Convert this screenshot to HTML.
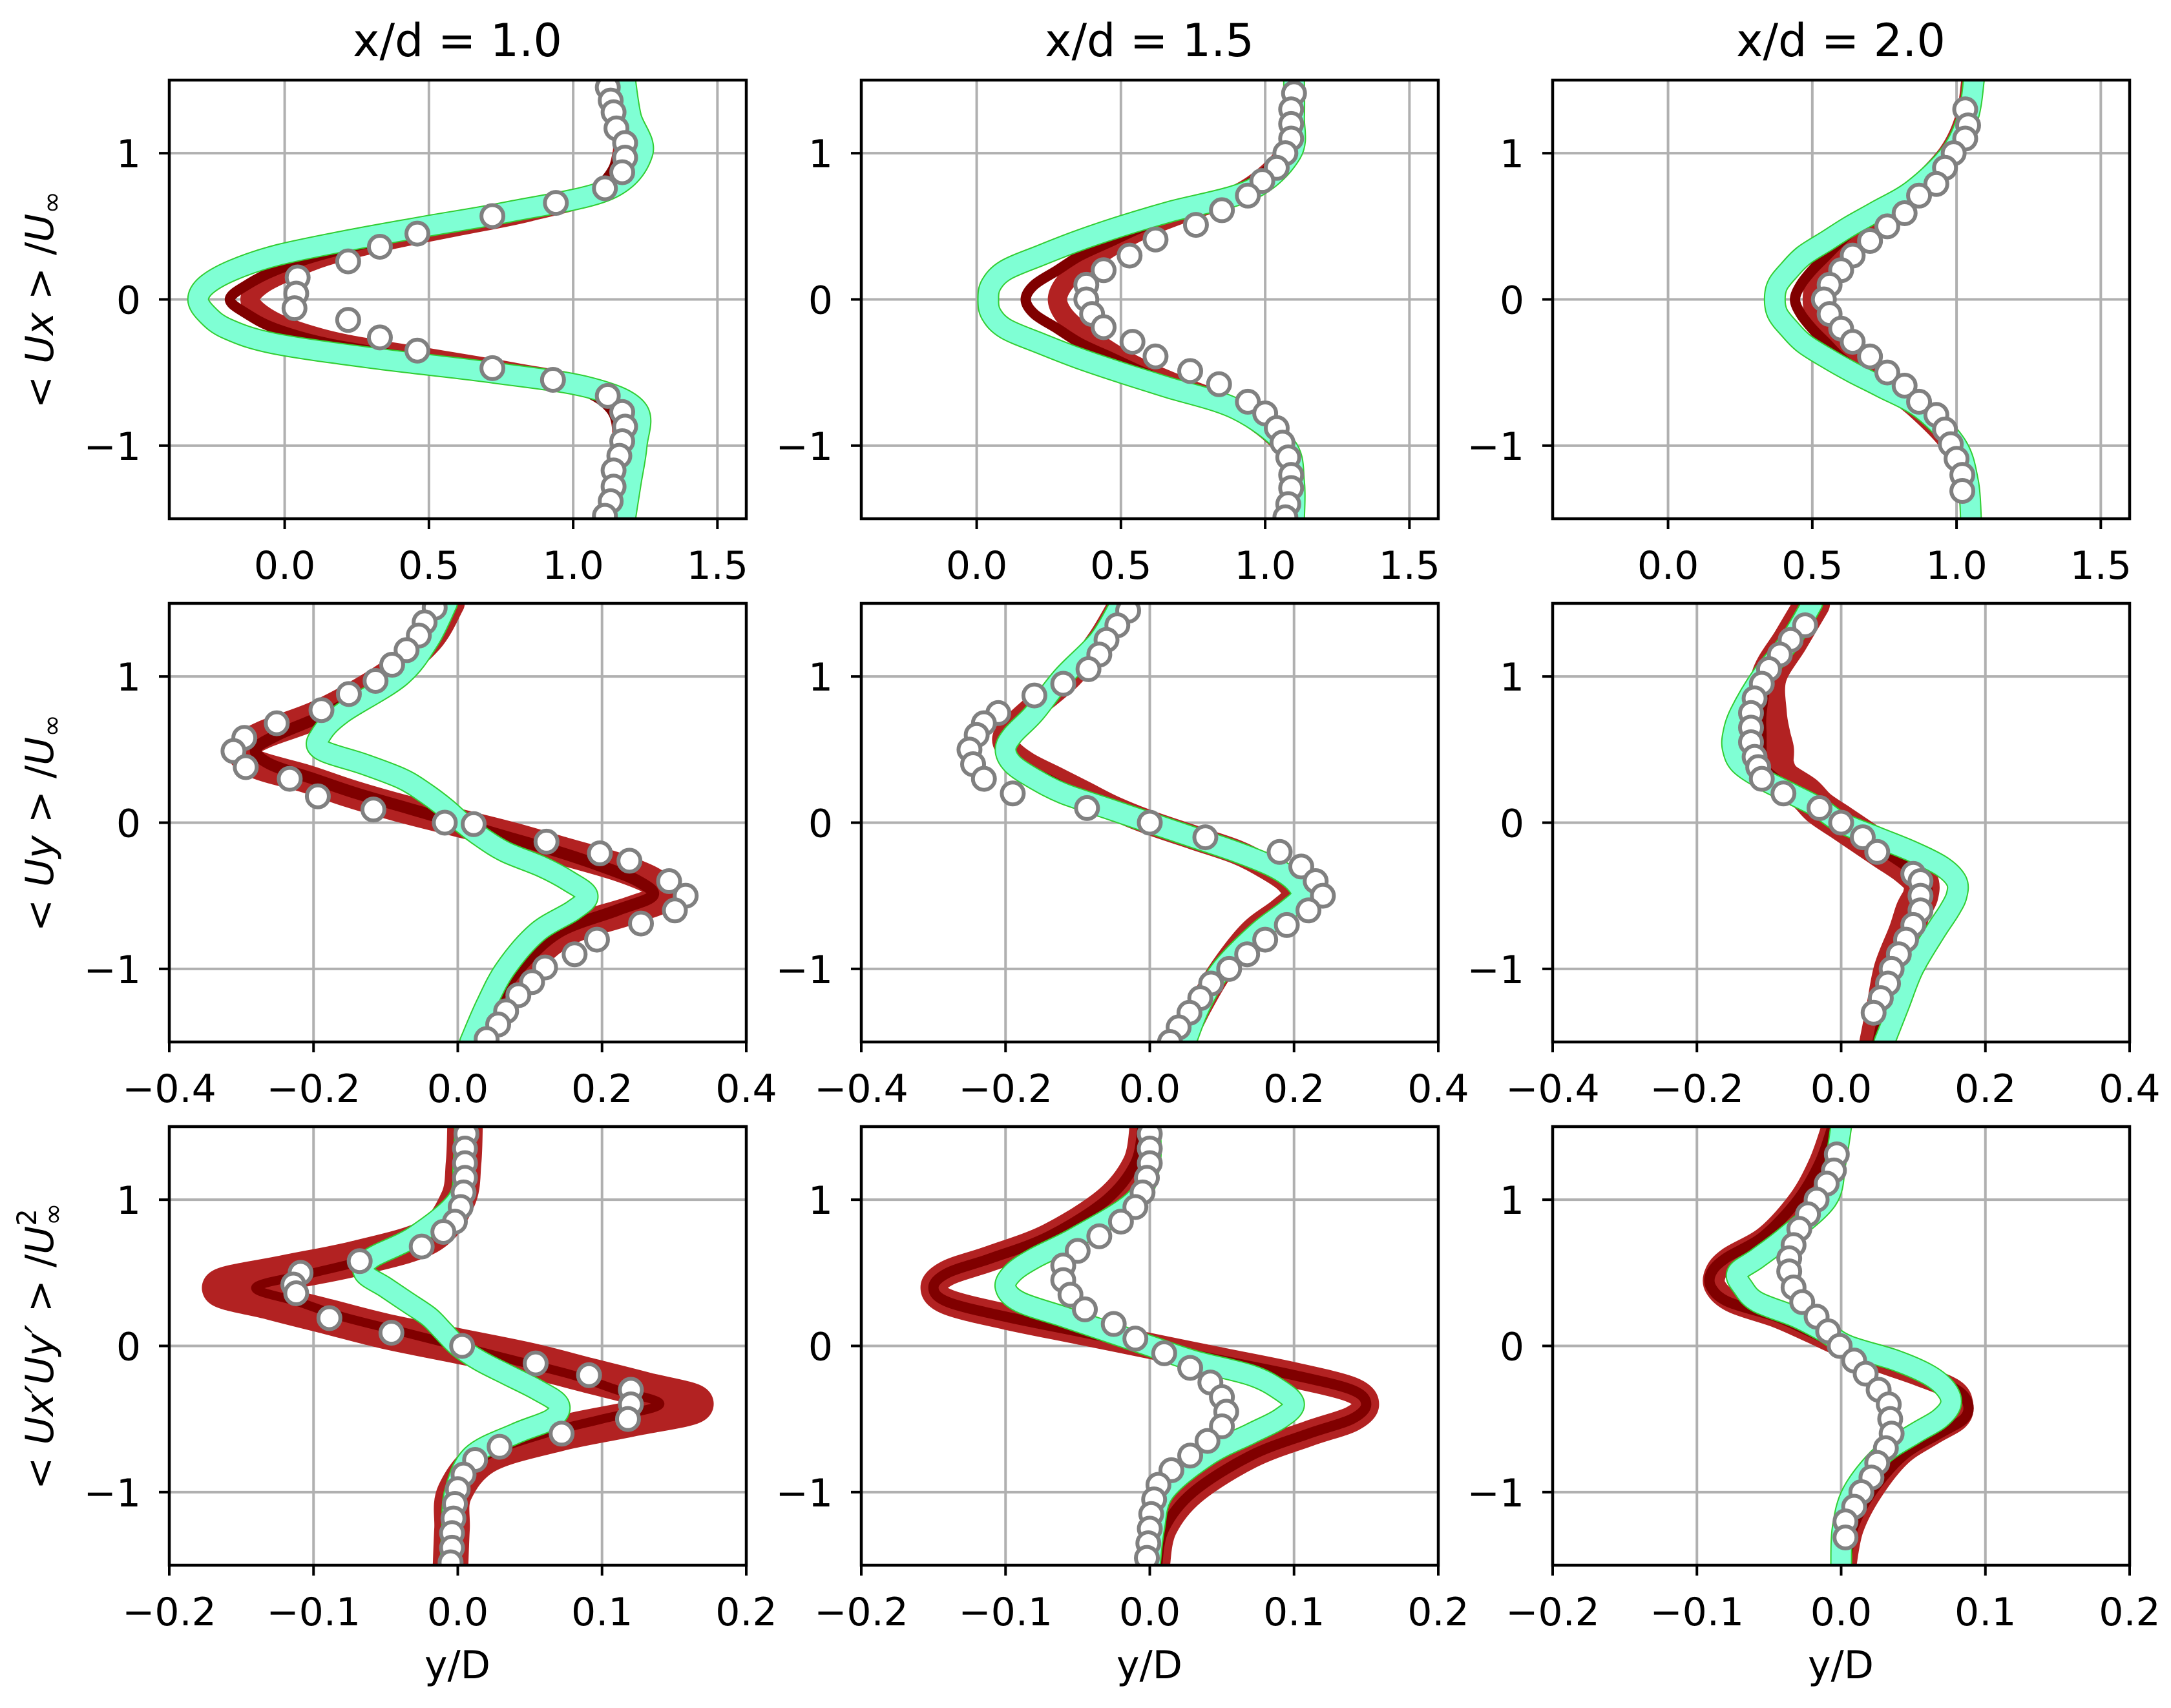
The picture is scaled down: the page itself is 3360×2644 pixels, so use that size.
<!DOCTYPE html>
<html><head><meta charset="utf-8"><style>
html,body{margin:0;padding:0;background:#fff;}
svg{display:block;font-family:"DejaVu Sans","Liberation Sans",sans-serif;}
</style></head><body>
<svg id="fig" width="3360" height="2644" viewBox="0 0 3360 2644" xmlns="http://www.w3.org/2000/svg">
<rect width="3360" height="2644" fill="#fff"/>
<text x="708" y="87" font-size="70" text-anchor="middle">x/d = 1.0</text>
<text x="1779" y="87" font-size="70" text-anchor="middle">x/d = 1.5</text>
<text x="2849" y="87" font-size="70" text-anchor="middle">x/d = 2.0</text>
<text x="708" y="2598" font-size="60" text-anchor="middle">y/D</text>
<text x="1779" y="2598" font-size="60" text-anchor="middle">y/D</text>
<text x="2849" y="2598" font-size="60" text-anchor="middle">y/D</text>
<text font-size="60" text-anchor="middle" transform="translate(82,464) rotate(-90)">&lt; <tspan font-style="italic">Ux</tspan> &gt; /<tspan font-style="italic">U</tspan><tspan font-size="42" dy="12">∞</tspan></text>
<text font-size="60" text-anchor="middle" transform="translate(82,1274) rotate(-90)">&lt; <tspan font-style="italic">Uy</tspan> &gt; /<tspan font-style="italic">U</tspan><tspan font-size="42" dy="12">∞</tspan></text>
<text font-size="60" text-anchor="middle" transform="translate(82,2084) rotate(-90)">&lt; <tspan font-style="italic">Ux′Uy′</tspan> &gt; /<tspan font-style="italic">U</tspan><tspan font-size="42" dy="-26">2</tspan><tspan font-size="42" dx="-26" dy="40">∞</tspan></text>
<g id="panels"></g>
</svg>
<script>
const yGrid = [-1.5,-1.25,-1,-0.75,-0.6,-0.5,-0.4,-0.3,-0.2,-0.1,0,0.1,0.2,0.3,0.4,0.5,0.6,0.75,1,1.25,1.5];
const yTicks = [-1,0,1];
const yTickLabels = ["\u22121","0","1"];
const xTicksRow1 = [0,0.5,1.0,1.5];
const xLabelsRow1 = ["0.0","0.5","1.0","1.5"];
const xTicksRow2 = [-0.4,-0.2,0,0.2,0.4];
const xLabelsRow2 = ["\u22120.4","\u22120.2","0.0","0.2","0.4"];
const xTicksRow3 = [-0.2,-0.1,0,0.1,0.2];
const xLabelsRow3 = ["\u22120.2","\u22120.1","0.0","0.1","0.2"];

const ux1Cyan = [1.18,1.2,1.22,1.22,1.05,0.72,0.3,-0.04,-0.2,-0.27,-0.3,-0.27,-0.18,-0.03,0.21,0.49,0.78,1.12,1.24,1.2,1.18];
const ux1Red  = [1.13,1.15,1.17,1.15,1.05,0.8,0.5,0.2,0.02,-0.08,-0.12,-0.08,0.02,0.15,0.35,0.6,0.85,1.1,1.17,1.15,1.13];
const ux1Dark = [1.12,1.14,1.16,1.13,1.0,0.75,0.45,0.15,-0.03,-0.13,-0.19,-0.13,-0.03,0.12,0.32,0.57,0.82,1.07,1.16,1.14,1.12];
const ux1MarkY = [1.45,1.36,1.28,1.17,1.07,0.97,0.87,0.76,0.66,0.57,0.45,0.36,0.26,0.15,0.04,-0.06,-0.14,-0.26,-0.35,-0.47,-0.55,-0.66,-0.77,-0.87,-0.97,-1.07,-1.17,-1.28,-1.38,-1.48];
const ux1MarkX = [1.12,1.13,1.14,1.15,1.18,1.18,1.17,1.11,0.94,0.72,0.46,0.33,0.22,0.045,0.04,0.034,0.22,0.33,0.46,0.72,0.93,1.12,1.17,1.18,1.17,1.16,1.14,1.14,1.13,1.11];

const ux2Cyan = [1.1,1.1,1.07,0.9,0.66,0.5,0.35,0.22,0.1,0.05,0.04,0.05,0.1,0.22,0.35,0.5,0.67,0.95,1.09,1.1,1.1];
const ux2Red  = [1.09,1.09,1.06,0.9,0.72,0.6,0.5,0.42,0.35,0.3,0.28,0.3,0.35,0.42,0.5,0.6,0.73,0.93,1.07,1.09,1.1];
const ux2Dark = [1.08,1.08,1.05,0.88,0.7,0.58,0.47,0.36,0.28,0.2,0.17,0.2,0.28,0.36,0.47,0.58,0.71,0.91,1.06,1.08,1.09];
const ux2MarkY = [1.41,1.30,1.20,1.10,1.0,0.9,0.81,0.71,0.61,0.51,0.41,0.30,0.20,0.10,0,-0.10,-0.19,-0.29,-0.39,-0.49,-0.58,-0.70,-0.78,-0.88,-0.98,-1.08,-1.2,-1.29,-1.40,-1.49];
const ux2MarkX = [1.10,1.09,1.09,1.09,1.07,1.04,0.99,0.94,0.85,0.76,0.62,0.53,0.44,0.38,0.38,0.40,0.44,0.54,0.62,0.74,0.84,0.94,1.0,1.04,1.06,1.08,1.09,1.09,1.08,1.07];

const ux3Cyan = [1.05,1.04,1.0,0.88,0.74,0.64,0.55,0.47,0.42,0.38,0.37,0.38,0.42,0.47,0.55,0.63,0.72,0.85,0.98,1.04,1.06];
const ux3Red  = [1.05,1.03,0.98,0.86,0.76,0.69,0.63,0.58,0.54,0.51,0.5,0.51,0.54,0.58,0.63,0.68,0.75,0.85,0.97,1.03,1.05];
const ux3Dark = [1.05,1.03,0.98,0.86,0.75,0.67,0.6,0.55,0.5,0.46,0.44,0.46,0.5,0.55,0.6,0.66,0.74,0.85,0.97,1.03,1.05];
const ux3MarkY = [1.30,1.19,1.10,1.0,0.90,0.79,0.71,0.59,0.50,0.40,0.30,0.20,0.10,0,-0.10,-0.2,-0.29,-0.39,-0.50,-0.59,-0.70,-0.79,-0.89,-0.99,-1.09,-1.2,-1.31];
const ux3MarkX = [1.03,1.04,1.03,0.99,0.96,0.93,0.87,0.82,0.76,0.70,0.64,0.60,0.56,0.54,0.56,0.60,0.64,0.70,0.76,0.82,0.87,0.93,0.96,0.98,1.0,1.02,1.02];

const uy1Cyan = [0.017,0.039,0.066,0.11,0.16,0.18,0.154,0.116,0.066,0.033,0.006,-0.017,-0.044,-0.077,-0.13,-0.19,-0.19,-0.16,-0.08,-0.04,-0.015];
const uy1Red  = [0.03,0.05,0.09,0.15,0.24,0.29,0.27,0.22,0.15,0.08,0.0,-0.08,-0.15,-0.21,-0.28,-0.3,-0.27,-0.19,-0.1,-0.04,-0.01];
const uy1Dark = [0.03,0.05,0.085,0.14,0.22,0.27,0.25,0.2,0.14,0.07,0.0,-0.07,-0.14,-0.2,-0.26,-0.28,-0.25,-0.18,-0.09,-0.04,-0.01];
const uy1MarkY = [1.47,1.37,1.28,1.18,1.08,0.97,0.88,0.77,0.68,0.58,0.49,0.38,0.30,0.18,0.09,0.0,-0.01,-0.13,-0.21,-0.26,-0.40,-0.50,-0.60,-0.69,-0.80,-0.90,-0.99,-1.09,-1.18,-1.29,-1.38,-1.48];
const uy1MarkX = [-0.032,-0.046,-0.054,-0.071,-0.091,-0.114,-0.151,-0.189,-0.251,-0.296,-0.311,-0.294,-0.233,-0.194,-0.117,-0.018,0.022,0.123,0.197,0.238,0.293,0.316,0.301,0.254,0.193,0.162,0.121,0.103,0.084,0.067,0.056,0.040];

const uy2Cyan = [0.05,0.07,0.1,0.15,0.19,0.21,0.2,0.17,0.12,0.06,0,-0.06,-0.12,-0.16,-0.19,-0.2,-0.19,-0.16,-0.12,-0.07,-0.04];
const uy2Red  = [0.045,0.07,0.1,0.14,0.18,0.2,0.19,0.16,0.12,0.06,0,-0.05,-0.09,-0.13,-0.17,-0.195,-0.2,-0.17,-0.11,-0.07,-0.04];
const uy2Dark = [0.045,0.07,0.1,0.14,0.18,0.2,0.19,0.16,0.11,0.05,0,-0.05,-0.1,-0.14,-0.18,-0.2,-0.2,-0.17,-0.11,-0.07,-0.04];
const uy2MarkY = [1.45,1.35,1.25,1.15,1.05,0.95,0.87,0.75,0.68,0.6,0.5,0.4,0.3,0.2,0.1,0,-0.1,-0.2,-0.3,-0.4,-0.5,-0.6,-0.7,-0.8,-0.9,-1.0,-1.1,-1.2,-1.3,-1.4,-1.5];
const uy2MarkX = [-0.03,-0.045,-0.06,-0.07,-0.085,-0.12,-0.16,-0.21,-0.23,-0.24,-0.25,-0.245,-0.23,-0.19,-0.087,0,0.077,0.18,0.21,0.23,0.24,0.22,0.19,0.16,0.135,0.11,0.085,0.07,0.055,0.04,0.028];

const uy3Cyan = [0.06,0.08,0.1,0.13,0.15,0.16,0.16,0.14,0.1,0.05,0,-0.03,-0.07,-0.11,-0.14,-0.15,-0.15,-0.14,-0.11,-0.07,-0.04];
const uy3Red  = [0.05,0.06,0.07,0.09,0.1,0.11,0.11,0.09,0.06,0.03,0,-0.03,-0.05,-0.08,-0.09,-0.09,-0.095,-0.1,-0.1,-0.07,-0.04];
const uy3Dark = [0.05,0.06,0.07,0.09,0.11,0.12,0.115,0.09,0.06,0.03,0,-0.03,-0.06,-0.09,-0.11,-0.11,-0.11,-0.11,-0.1,-0.07,-0.04];
const uy3MarkY = [1.35,1.25,1.15,1.05,0.95,0.85,0.75,0.65,0.55,0.45,0.38,0.3,0.2,0.1,0,-0.1,-0.2,-0.35,-0.4,-0.5,-0.6,-0.7,-0.8,-0.9,-1.0,-1.1,-1.2,-1.3];
const uy3MarkX = [-0.05,-0.07,-0.085,-0.1,-0.11,-0.12,-0.125,-0.125,-0.125,-0.12,-0.115,-0.11,-0.08,-0.03,0,0.03,0.05,0.1,0.11,0.11,0.11,0.1,0.09,0.08,0.07,0.065,0.055,0.045];

const uv1Cyan = [-0.005,-0.004,-0.002,0.01,0.04,0.065,0.07,0.055,0.035,0.015,0,-0.01,-0.02,-0.035,-0.05,-0.065,-0.06,-0.03,0.0,0.004,0.005];
const uv1Red  = [-0.005,-0.004,-0.002,0.02,0.07,0.12,0.165,0.13,0.09,0.05,0,-0.05,-0.09,-0.13,-0.165,-0.12,-0.07,-0.02,0,0.004,0.005];
const uv1Dark = [-0.005,-0.004,-0.002,0.02,0.06,0.1,0.14,0.11,0.08,0.04,0,-0.04,-0.08,-0.11,-0.14,-0.1,-0.06,-0.02,0,0.004,0.005];
const uv1MarkY = [1.45,1.35,1.25,1.15,1.05,0.95,0.85,0.78,0.68,0.58,0.5,0.42,0.36,0.19,0.09,0,-0.12,-0.2,-0.3,-0.4,-0.5,-0.6,-0.69,-0.78,-0.88,-0.98,-1.08,-1.18,-1.28,-1.38,-1.48];
const uv1MarkX = [0.006,0.005,0.005,0.005,0.004,0.002,-0.002,-0.01,-0.025,-0.068,-0.109,-0.114,-0.112,-0.089,-0.046,0.003,0.054,0.091,0.12,0.12,0.118,0.072,0.029,0.012,0.004,0.0,-0.002,-0.003,-0.004,-0.004,-0.005];

const uv2Cyan = [0,0.003,0.01,0.04,0.07,0.09,0.1,0.09,0.07,0.03,0,-0.03,-0.06,-0.09,-0.1,-0.095,-0.08,-0.05,-0.01,0,0];
const uv2Red  = [0.005,0.01,0.03,0.07,0.11,0.14,0.15,0.14,0.1,0.05,0,-0.05,-0.1,-0.14,-0.15,-0.14,-0.11,-0.07,-0.03,-0.01,-0.005];
const uv2Dark = [0.005,0.01,0.03,0.07,0.11,0.14,0.15,0.14,0.1,0.05,0,-0.05,-0.1,-0.14,-0.15,-0.14,-0.11,-0.07,-0.03,-0.01,-0.005];
const uv2MarkY = [1.45,1.35,1.25,1.15,1.05,0.95,0.85,0.75,0.65,0.55,0.45,0.35,0.25,0.15,0.05,-0.05,-0.15,-0.25,-0.35,-0.45,-0.55,-0.65,-0.75,-0.85,-0.95,-1.05,-1.15,-1.25,-1.35,-1.45];
const uv2MarkX = [0,0,0,-0.002,-0.005,-0.01,-0.02,-0.035,-0.05,-0.06,-0.06,-0.055,-0.045,-0.025,-0.01,0.01,0.028,0.042,0.05,0.053,0.05,0.04,0.028,0.015,0.006,0.003,0.001,0,-0.001,-0.002];

const uv3Cyan = [0,0.001,0.008,0.028,0.051,0.068,0.076,0.073,0.061,0.038,0.005,-0.012,-0.032,-0.058,-0.068,-0.072,-0.058,-0.038,-0.01,-0.004,0];
const uv3Red  = [0.003,0.008,0.021,0.041,0.064,0.081,0.084,0.078,0.054,0.025,0,-0.022,-0.045,-0.075,-0.087,-0.087,-0.078,-0.052,-0.029,-0.015,-0.006];
const uv3Dark = [0.003,0.008,0.021,0.043,0.068,0.085,0.088,0.08,0.055,0.025,0,-0.022,-0.045,-0.078,-0.09,-0.09,-0.08,-0.054,-0.03,-0.015,-0.006];
const uv3MarkY = [1.31,1.2,1.11,1.0,0.9,0.8,0.69,0.6,0.51,0.4,0.3,0.2,0.1,0,-0.1,-0.19,-0.3,-0.4,-0.5,-0.6,-0.7,-0.8,-0.9,-1.0,-1.1,-1.2,-1.31];
const uv3MarkX = [-0.003,-0.005,-0.01,-0.017,-0.023,-0.029,-0.033,-0.036,-0.036,-0.033,-0.027,-0.017,-0.009,-0.001,0.009,0.017,0.026,0.033,0.034,0.035,0.031,0.025,0.021,0.014,0.009,0.003,0.003];

const NS = "http://www.w3.org/2000/svg";
const root = document.getElementById('panels');
const colLeft = [262,1333,2403], rowTop = [124,934,1744], W = 893, H = 679;

function mk(tag, parent){ const e = document.createElementNS(NS, tag); parent.appendChild(e); return e; }

function smoothPath(pts){
  let d = "M" + pts[0][0].toFixed(1) + "," + pts[0][1].toFixed(1);
  for (let i=0;i<pts.length-1;i++){
    const p0=pts[Math.max(0,i-1)], p1=pts[i], p2=pts[i+1], p3=pts[Math.min(pts.length-1,i+2)];
    const c1x=p1[0]+(p2[0]-p0[0])/6, c1y=p1[1]+(p2[1]-p0[1])/6;
    const c2x=p2[0]-(p3[0]-p1[0])/6, c2y=p2[1]-(p3[1]-p1[1])/6;
    d += " C"+c1x.toFixed(1)+","+c1y.toFixed(1)+" "+c2x.toFixed(1)+","+c2y.toFixed(1)+" "+p2[0].toFixed(1)+","+p2[1].toFixed(1);
  }
  return d;
}

function panel(r, c, xmin, xmax, xt, xl, cyan, red, dark, my, mx, wRed, wDark, name){
  const L = colLeft[c], T = rowTop[r];
  const sx = v => L + (v - xmin) / (xmax - xmin) * W;
  const sy = v => T + (1.5 - v) / 3 * H;
  const g = mk('g', root);
  
  
  const cp = mk('clipPath', g); cp.setAttribute('id', 'clip' + r + c);
  const cr = mk('rect', cp); cr.setAttribute('x', L); cr.setAttribute('y', T); cr.setAttribute('width', W); cr.setAttribute('height', H);
  xt.forEach((v,i) => {
    const ln = mk('line', g);
    
    
    ln.setAttribute('x1', sx(v)); ln.setAttribute('x2', sx(v)); ln.setAttribute('y1', T); ln.setAttribute('y2', T+H);
    ln.setAttribute('stroke', '#b0b0b0'); ln.setAttribute('stroke-width', 4);
    const tk = mk('line', g);
    
    
    tk.setAttribute('x1', sx(v)); tk.setAttribute('x2', sx(v)); tk.setAttribute('y1', T+H); tk.setAttribute('y2', T+H+16);
    tk.setAttribute('stroke', '#000'); tk.setAttribute('stroke-width', 4);
    const tx = mk('text', g);
    
    
    tx.setAttribute('x', sx(v)); tx.setAttribute('y', T+H+93); tx.setAttribute('font-size', 60); tx.setAttribute('text-anchor', 'middle');
    tx.textContent = xl[i];
  });
  yTicks.forEach((v,i) => {
    const ln = mk('line', g);
    
    
    ln.setAttribute('x1', L); ln.setAttribute('x2', L+W); ln.setAttribute('y1', sy(v)); ln.setAttribute('y2', sy(v));
    ln.setAttribute('stroke', '#b0b0b0'); ln.setAttribute('stroke-width', 4);
    const tk = mk('line', g);
    
    
    tk.setAttribute('x1', L-16); tk.setAttribute('x2', L); tk.setAttribute('y1', sy(v)); tk.setAttribute('y2', sy(v));
    tk.setAttribute('stroke', '#000'); tk.setAttribute('stroke-width', 4);
    const tx = mk('text', g);
    
    
    tx.setAttribute('x', L-44); tx.setAttribute('y', sy(v)+22); tx.setAttribute('font-size', 60); tx.setAttribute('text-anchor', 'end');
    tx.textContent = yTickLabels[i];
  });
  const dg = mk('g', g); dg.setAttribute('clip-path', 'url(#clip' + r + c + ')');
  function curve(vals, color, width, nm){
    const p = mk('path', dg);
    
    
    const pts = vals.map((v,i) => [sx(v), sy(yGrid[i])]);
    p.setAttribute('d', smoothPath(pts));
    p.setAttribute('fill', 'none'); p.setAttribute('stroke', color); p.setAttribute('stroke-width', width);
    p.setAttribute('stroke-linejoin', 'round'); p.setAttribute('stroke-linecap', 'round');
  }
  curve(red, '#b22222', wRed, 'simulation-firebrick');
  curve(dark, '#800000', wDark, 'simulation-darkred');
  curve(cyan, '#32cd32', 34, 'simulation-green');
  curve(cyan, '#7fffd4', 30, 'simulation-aquamarine');
  my.forEach((yv,i) => {
    const m = mk('circle', dg);
    
    
    m.setAttribute('cx', sx(mx[i])); m.setAttribute('cy', sy(yv)); m.setAttribute('r', 17);
    m.setAttribute('fill', '#fff'); m.setAttribute('stroke', '#808080'); m.setAttribute('stroke-width', 6);
  });
  const fr = mk('rect', g);
  
  
  fr.setAttribute('x', L); fr.setAttribute('y', T); fr.setAttribute('width', W); fr.setAttribute('height', H);
  fr.setAttribute('fill', 'none'); fr.setAttribute('stroke', '#000'); fr.setAttribute('stroke-width', 4.5);
}

panel(0,0,-0.4,1.6,xTicksRow1,xLabelsRow1,ux1Cyan,ux1Red,ux1Dark,ux1MarkY,ux1MarkX,30,16,'panel-ux-xd1.0');
panel(0,1,-0.4,1.6,xTicksRow1,xLabelsRow1,ux2Cyan,ux2Red,ux2Dark,ux2MarkY,ux2MarkX,30,16,'panel-ux-xd1.5');
panel(0,2,-0.4,1.6,xTicksRow1,xLabelsRow1,ux3Cyan,ux3Red,ux3Dark,ux3MarkY,ux3MarkX,30,16,'panel-ux-xd2.0');
panel(1,0,-0.4,0.4,xTicksRow2,xLabelsRow2,uy1Cyan,uy1Red,uy1Dark,uy1MarkY,uy1MarkX,44,18,'panel-uy-xd1.0');
panel(1,1,-0.4,0.4,xTicksRow2,xLabelsRow2,uy2Cyan,uy2Red,uy2Dark,uy2MarkY,uy2MarkX,38,14,'panel-uy-xd1.5');
panel(1,2,-0.4,0.4,xTicksRow2,xLabelsRow2,uy3Cyan,uy3Red,uy3Dark,uy3MarkY,uy3MarkX,55,15,'panel-uy-xd2.0');
panel(2,0,-0.2,0.2,xTicksRow3,xLabelsRow3,uv1Cyan,uv1Red,uv1Dark,uv1MarkY,uv1MarkX,55,14,'panel-uxuy-xd1.0');
panel(2,1,-0.2,0.2,xTicksRow3,xLabelsRow3,uv2Cyan,uv2Red,uv2Dark,uv2MarkY,uv2MarkX,40,16,'panel-uxuy-xd1.5');
panel(2,2,-0.2,0.2,xTicksRow3,xLabelsRow3,uv3Cyan,uv3Red,uv3Dark,uv3MarkY,uv3MarkX,34,16,'panel-uxuy-xd2.0');
</script>
</body></html>
